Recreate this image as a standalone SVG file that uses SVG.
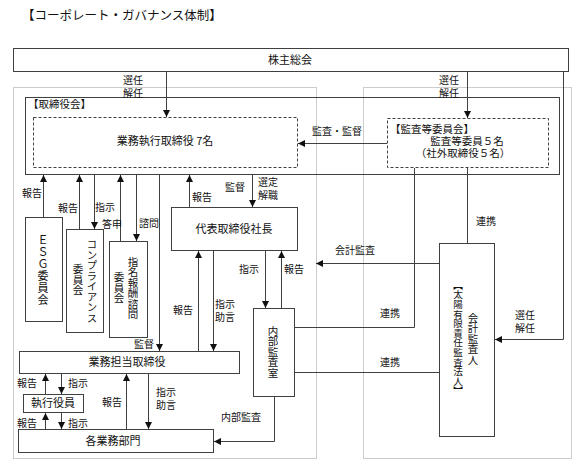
<svg xmlns="http://www.w3.org/2000/svg" width="588" height="471" viewBox="0 0 588 471">
<defs>
<marker id="a" viewBox="0 0 8 8" refX="8" refY="4" markerWidth="7" markerHeight="7" orient="auto" markerUnits="userSpaceOnUse"><path d="M0,0 L8,4 L0,8z" fill="#111"/></marker>
<style>
text{font-family:"Noto Sans CJK JP","Noto Sans",sans-serif;fill:#111;font-size:10.5px}
.c{text-anchor:middle}
.lb{font-size:10px}
.b{fill:#fff;stroke:#404040;stroke-width:1}
.d{fill:none;stroke:#404040;stroke-width:1;stroke-dasharray:3 2}
.o{fill:none;stroke:#999;stroke-width:1;stroke-dasharray:1 1}
.l{fill:none;stroke:#404040;stroke-width:1}
.ar{marker-end:url(#a)}
.v{writing-mode:vertical-rl;text-orientation:upright;text-anchor:middle}
.n{font-size:11px}
</style>
</defs>
<rect width="588" height="471" fill="#fff"/>
<text x="22" y="20" style="font-size:12.5px">【コーポレート・ガバナンス体制】</text>

<g id="frames">
<rect class="o" x="13.5" y="87.5" width="303" height="371"/>
<rect class="o" x="363.5" y="87.5" width="208" height="371"/>
</g>

<g id="shareholders"><rect class="b" x="13.5" y="48.5" width="555" height="23"/><text class="c n" x="290" y="64">株主総会</text></g>

<g id="board"><rect class="l" x="25.5" y="97.5" width="534" height="77"/><text x="28" y="108">【取締役会】</text></g>

<g id="exec-directors"><rect class="d" x="33.5" y="117.5" width="264" height="50"/><text class="c n" x="165" y="145">業務執行取締役 7名</text></g>

<g id="audit-committee"><rect class="d" x="387.5" y="118.5" width="161" height="49"/>
<text x="390" y="133">【監査等委員会】</text>
<text class="c" x="467" y="145">監査等委員５名</text>
<text class="c" x="463" y="157">（社外取締役５名）</text></g>

<g id="president"><rect class="b" x="171.5" y="207.5" width="126" height="43"/><text class="c n" x="234" y="233">代表取締役社長</text></g>

<g id="esg"><rect class="b" x="25.5" y="217.5" width="37" height="104"/><text class="v n" x="43" y="270" style="letter-spacing:1px">ＥＳＧ委員会</text></g>

<g id="compliance"><rect class="b" x="66.5" y="229.5" width="37" height="103"/>
<text class="v" x="92" y="281">コンプライアンス</text>
<text class="v" x="78" y="280">委員会</text></g>

<g id="nomination"><rect class="b" x="109.5" y="241.5" width="38" height="96"/>
<text class="v" x="133" y="288">指名報酬諮問</text>
<text class="v" x="119" y="288">委員会</text></g>

<g id="internal-audit"><rect class="b" x="253.5" y="308.5" width="41" height="88"/><text class="v" x="273" y="352">内部監査室</text></g>

<g id="auditor"><rect class="b" x="439.5" y="243.5" width="55" height="193"/>
<text class="v" x="473" y="339">会計監査人</text>
<text class="v" x="458" y="338" style="font-size:9.6px">【太陽有限責任監査法人】</text></g>

<g id="business-directors"><rect class="b" x="19.5" y="351.5" width="220" height="22"/><text class="c n" x="127" y="366">業務担当取締役</text></g>

<g id="officers"><rect class="b" x="23.5" y="394.5" width="60" height="18"/><text class="c n" x="53" y="407">執行役員</text></g>

<g id="departments"><rect class="b" x="18.5" y="429.5" width="195" height="23"/><text class="c n" x="113" y="445">各業務部門</text></g>

<g id="connectors">
<path class="l ar" d="M166.5,72 V117"/>
<path class="l ar" d="M467.5,72 V118"/>
<path class="l ar" d="M563.5,72 V339.5 H495"/>
<path class="l ar" d="M387,143.5 H298"/>
<path class="l" d="M414.5,168 V327.5 H295"/>
<path class="l" d="M467.5,168 V243"/>
<path class="l ar" d="M439,263.5 H316"/>
<path class="l" d="M295,372.5 H439"/>
<path class="l ar" d="M189.5,207 V175"/>
<path class="l ar" d="M252.5,175 V207"/>
<path class="l ar" d="M198.5,351 V251"/>
<path class="l ar" d="M213.5,251 V351"/>
<path class="l ar" d="M265.5,251 V308"/>
<path class="l ar" d="M281.5,308 V251"/>
<path class="l ar" d="M43.5,217 V175"/>
<path class="l ar" d="M79.5,229 V175"/>
<path class="l ar" d="M94.5,175 V229"/>
<path class="l ar" d="M120.5,241 V175"/>
<path class="l ar" d="M136.5,175 V241"/>
<path class="l ar" d="M159.5,175 V351"/>
<path class="l ar" d="M45.5,394 V374"/>
<path class="l ar" d="M61.5,374 V394"/>
<path class="l ar" d="M45.5,429 V413"/>
<path class="l ar" d="M61.5,413 V429"/>
<path class="l ar" d="M126.5,429 V374"/>
<path class="l ar" d="M148.5,374 V429"/>
<path class="l ar" d="M274.5,397 V441.5 H214"/>
</g>

<g id="labels" class="lb">
<text class="c lb" x="133" y="84">選任</text><text class="c lb" x="133" y="97">解任</text>
<text class="c lb" x="449" y="84">選任</text><text class="c lb" x="449" y="97">解任</text>
<text class="c lb" x="525" y="319">選任</text><text class="c lb" x="525" y="332">解任</text>
<text class="c lb" x="337" y="135">監査・監督</text>
<text class="c lb" x="390" y="317">連携</text>
<text class="c lb" x="486" y="225">連携</text>
<text class="c lb" x="355" y="254">会計監査</text>
<text class="c lb" x="390" y="366">連携</text>
<text class="c lb" x="202" y="201">報告</text>
<text class="c lb" x="235" y="191">監督</text>
<text class="c lb" x="268" y="186">選定</text><text class="c lb" x="268" y="199">解職</text>
<text class="c lb" x="183" y="314">報告</text>
<text class="c lb" x="225" y="308">指示</text><text class="c lb" x="225" y="321">助言</text>
<text class="c lb" x="249" y="273">指示</text>
<text class="c lb" x="294" y="273">報告</text>
<text class="c lb" x="32" y="197">報告</text>
<text class="c lb" x="68" y="212">報告</text>
<text class="c lb" x="105" y="211">指示</text>
<text class="c lb" x="112" y="228">答申</text>
<text class="c lb" x="149" y="227">諮問</text>
<text class="c lb" x="144" y="348">監督</text>
<text class="c lb" x="27" y="387">報告</text><text class="c lb" x="78" y="387">指示</text>
<text class="c lb" x="27" y="427">報告</text><text class="c lb" x="78" y="427">指示</text>
<text class="c lb" x="112" y="406">報告</text>
<text class="c lb" x="166" y="396">指示</text><text class="c lb" x="166" y="409">助言</text>
<text class="c lb" x="241" y="421">内部監査</text>
</g>
</svg>
